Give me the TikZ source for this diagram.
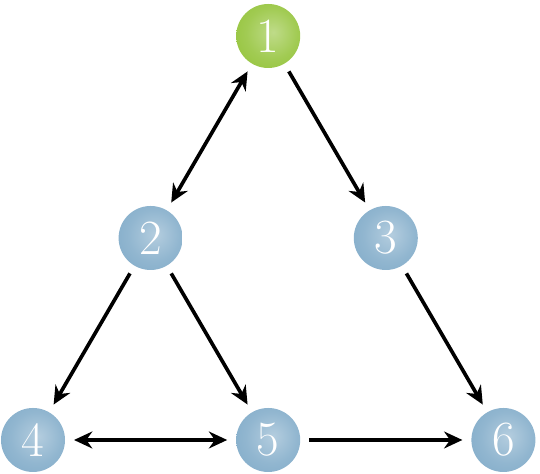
\documentclass[tikz,border=0pt]{standalone}
\usepackage{tikz}
\usetikzlibrary{arrows.meta}
\definecolor{vblue}{RGB}{118,164,196}
\definecolor{vgreen}{RGB}{138,190,40}
\pgfdeclareradialshading{ballblue}{\pgfpoint{4bp}{3bp}}{%
  color(0bp)=(vblue!55!white); color(20bp)=(vblue!80!white);
  color(46bp)=(vblue); color(60bp)=(vblue!92!black)}
\pgfdeclareradialshading{ballgreen}{\pgfpoint{4bp}{3bp}}{%
  color(0bp)=(vgreen!55!white); color(20bp)=(vgreen!80!white);
  color(46bp)=(vgreen); color(60bp)=(vgreen!92!black)}
\tikzset{
  vert/.style={circle,minimum size=0.8cm,inner sep=0pt,text=white,
    shading=ball#1,font=\fontsize{17.5}{20}\selectfont},
  vert/.default=blue,
  edge/.style={line width=1.3pt,-{Stealth[length=6.5pt,width=6pt]},shorten >=3pt,shorten <=3pt},
  dedge/.style={edge,{Stealth[length=6.5pt,width=6pt]}-{Stealth[length=6.5pt,width=6pt]}}
}

\begin{document}
\begin{tikzpicture}[x=1.47cm,y=2.525cm]
\useasboundingbox (-0.4125cm,-0.425cm) rectangle (6.3375cm,5.5cm);
\node[vert=green] (v1) at (2,2) {1};
\node[vert] (v2) at (1,1) {2};
\node[vert] (v3) at (3,1) {3};
\node[vert] (v4) at (0,0) {4};
\node[vert] (v5) at (2,0) {5};
\node[vert] (v6) at (4,0) {6};
\foreach \a/\b in {1/3,2/4,2/5,3/6,5/6}{
  \draw[edge] (v\a) -- (v\b);
}
\foreach \a/\b in {1/2,4/5}{
  \draw[dedge] (v\a) -- (v\b);
}
\end{tikzpicture}
\end{document}
